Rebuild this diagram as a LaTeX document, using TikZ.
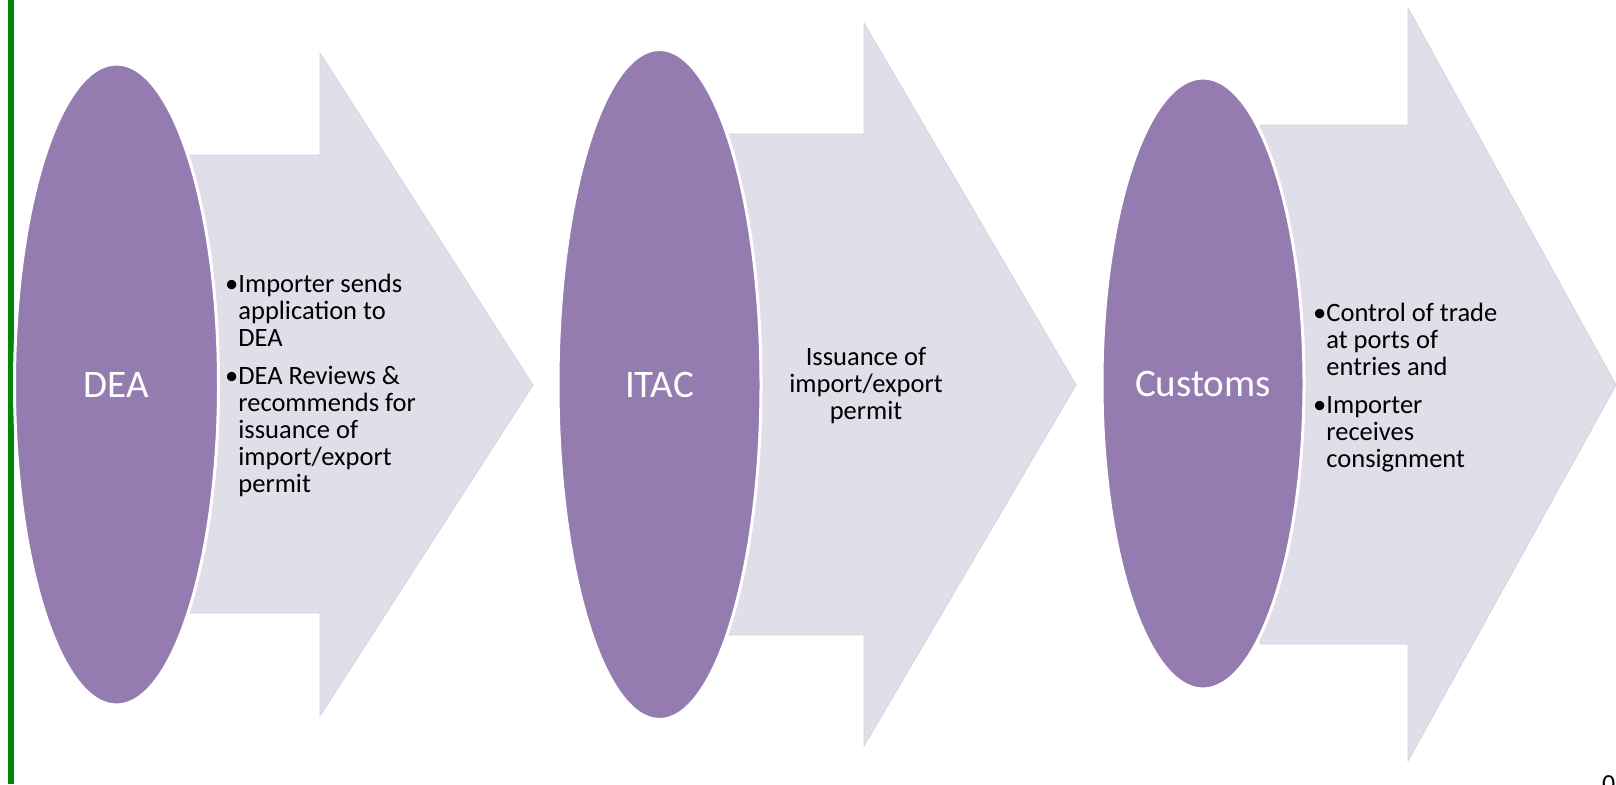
\documentclass[tikz,border=0pt]{standalone}
\usepackage{fontspec}
\setmainfont{Carlito}
\usetikzlibrary{shapes.geometric}
\definecolor{ellpurple}{RGB}{149,124,176}
\definecolor{arrowgrey}{RGB}{224,222,232}
\definecolor{arrowedge}{RGB}{214,211,226}
\definecolor{bargreen}{RGB}{0,137,0}
\begin{document}
\begin{tikzpicture}[x=1pt,y=-1pt,
  stage/.style={ellipse, fill=ellpurple, draw=white, line width=3pt, inner sep=0pt,
                text=white, font=\fontsize{39}{47}\selectfont},
  bigarrow/.style={fill=arrowgrey, draw=arrowedge, line width=0.8pt},
  body/.style={font=\fontsize{26.5}{27}\selectfont, inner sep=0pt, text=black}
]
\useasboundingbox (0,0) rectangle (1616,784);
\fill[white] (0,0) rectangle (1616,784);
\draw[bargreen, line width=6pt] (11,0) -- (11,784);

% arrows
\path[bigarrow] (175,155) -- (320,155) -- (320,53) -- (533,385) -- (320,716) -- (320,613) -- (175,613) -- cycle;
\path[bigarrow] (720,134) -- (864,134) -- (864,23) -- (1076,385) -- (864,746) -- (864,635) -- (720,635) -- cycle;
\path[bigarrow] (1260,125) -- (1408,125) -- (1408,8) -- (1616,385) -- (1408,761) -- (1408,644) -- (1260,644) -- cycle;

% ellipses
\node[stage, minimum width=204pt, minimum height=641pt] (dea) at (116.5,384.5) {DEA};
\node[stage, minimum width=203pt, minimum height=670pt] (itac) at (659.5,384.5) {ITAC};
\node[stage, minimum width=202pt, minimum height=611pt] (customs) at (1203,383.5) {Customs};

% texts
\node[body, anchor=base west] (deatext) at (225,292) {\begin{tabular}[t]{@{}l@{}l@{}}
\textbullet&Importer sends\\&application to\\&DEA\\[11pt]
\textbullet&DEA Reviews \&\\&recommends for\\&issuance of\\&import/export\\&permit\end{tabular}};
\node[body, anchor=base] (itactext) at (866,365) {\begin{tabular}[t]{@{}c@{}}
Issuance of\\import/export\\permit\end{tabular}};
\node[body, anchor=base west] (customstext) at (1313,321) {\begin{tabular}[t]{@{}l@{}l@{}}
\textbullet&Control of trade\\&at ports of\\&entries and\\[11pt]
\textbullet&Importer\\&receives\\&consignment\end{tabular}};

\node[anchor=north west, inner sep=0pt, font=\fontsize{26}{30}\selectfont] (pageno) at (1602,775) {0};
\end{tikzpicture}
\end{document}
